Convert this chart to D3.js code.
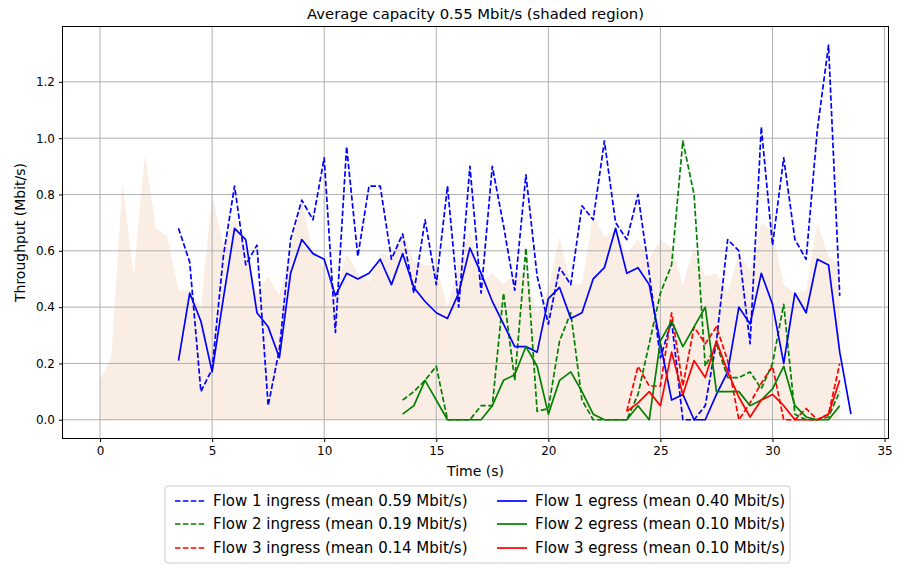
<!DOCTYPE html>
<html>
<head>
<meta charset="utf-8">
<script src="https://cdn.jsdelivr.net/npm/d3@7"></script>
<style>
  body { margin: 0; background: #fff; }
  svg { display: block; font-family: "DejaVu Sans", sans-serif; }
</style>
</head>
<body>
<svg id="chart" width="898" height="565"></svg>
<script>
// ---------------- data ----------------
const step = 0.5;
const capacityStart = 0;
const capacity = [0.14,0.22,0.84,0.51,0.94,0.68,0.65,0.46,0.46,0.40,0.80,0.62,0.72,0.60,0.45,0.51,0.44,0.60,0.78,0.59,
  0.54,0.45,0.59,0.52,0.49,0.59,0.58,0.67,0.56,0.55,0.55,0.40,0.55,0.67,0.49,0.52,0.48,0.52,0.52,0.38,
  0.46,0.65,0.48,0.48,0.73,0.65,0.67,0.59,0.64,0.57,0.64,0.61,0.48,0.61,0.51,0.52,0.45,0.59,0.53,0.70,
  0.67,0.48,0.45,0.46,0.70,0.58,0.55];

const flow1Start = 3.5;
const flow1Ingress = [0.68,0.56,0.10,0.18,0.58,0.83,0.55,0.62,0.05,0.25,0.64,0.78,0.71,0.93,0.31,0.97,0.58,0.83,0.83,0.57,
  0.66,0.45,0.71,0.48,0.83,0.40,0.90,0.45,0.90,0.69,0.46,0.87,0.51,0.34,0.54,0.48,0.76,0.71,0.99,0.70,
  0.64,0.80,0.52,0.22,0.35,0.00,0.00,0.05,0.28,0.64,0.60,0.27,1.04,0.62,0.93,0.64,0.57,1.03,1.33,0.44];
const flow1Egress = [0.21,0.45,0.35,0.17,0.43,0.68,0.64,0.38,0.33,0.22,0.52,0.64,0.59,0.57,0.44,0.52,0.50,0.52,0.57,0.48,
  0.59,0.47,0.42,0.38,0.36,0.45,0.61,0.52,0.42,0.34,0.26,0.26,0.24,0.43,0.47,0.36,0.38,0.50,0.54,0.68,
  0.52,0.54,0.48,0.27,0.07,0.09,0.00,0.00,0.09,0.17,0.40,0.34,0.52,0.41,0.20,0.45,0.38,0.57,0.55,0.24,0.02];

const flow2Start = 13.5;
const flow2Ingress = [0.07,0.10,0.14,0.19,0.00,0.00,0.00,0.05,0.05,0.45,0.14,0.61,0.03,0.04,0.28,0.38,0.07,0.00,0.00,0.00,
  0.00,0.09,0.27,0.45,0.55,0.99,0.80,0.19,0.27,0.15,0.15,0.17,0.11,0.20,0.41,0.02,0.00,0.00,0.01,0.10];
const flow2Egress = [0.02,0.05,0.14,0.07,0.00,0.00,0.00,0.00,0.05,0.14,0.16,0.26,0.19,0.02,0.14,0.17,0.10,0.02,0.00,0.00,
  0.00,0.05,0.00,0.28,0.35,0.26,0.33,0.40,0.10,0.10,0.10,0.05,0.07,0.11,0.19,0.05,0.01,0.00,0.00,0.05];

const flow3Start = 23.5;
const flow3Ingress = [0.03,0.19,0.12,0.12,0.38,0.12,0.33,0.27,0.33,0.21,0.00,0.06,0.13,0.19,0.00,0.00,0.04,0.00,0.02,0.20];
const flow3Egress = [0.03,0.06,0.10,0.05,0.24,0.09,0.21,0.15,0.28,0.17,0.08,0.01,0.07,0.09,0.05,0.00,0.00,0.00,0.02,0.14];

const titleText = "Average capacity 0.55 Mbit/s (shaded region)";
const xLabel = "Time (s)";
const yLabel = "Throughput (Mbit/s)";
const xTicks = [0,5,10,15,20,25,30,35];
const yTicks = [0.0,0.2,0.4,0.6,0.8,1.0,1.2];
const legendLabels = [
  "Flow 1 ingress (mean 0.59 Mbit/s)", "Flow 2 ingress (mean 0.19 Mbit/s)", "Flow 3 ingress (mean 0.14 Mbit/s)",
  "Flow 1 egress (mean 0.40 Mbit/s)", "Flow 2 egress (mean 0.10 Mbit/s)", "Flow 3 egress (mean 0.10 Mbit/s)"
];

// ---------------- build ----------------
const toPoints = (start, vals) => vals.map((v, i) => ({t: start + i * step, v}));
const series = [
  {pts: toPoints(flow1Start, flow1Ingress), color: "#0000ff", dash: true},
  {pts: toPoints(flow2Start, flow2Ingress), color: "#008000", dash: true},
  {pts: toPoints(flow3Start, flow3Ingress), color: "#ff0000", dash: true},
  {pts: toPoints(flow1Start, flow1Egress), color: "#0000ff", dash: false},
  {pts: toPoints(flow2Start, flow2Egress), color: "#008000", dash: false},
  {pts: toPoints(flow3Start, flow3Egress), color: "#ff0000", dash: false}
];
const capPts = toPoints(capacityStart, capacity);

const svg = d3.select("#chart");
const L = 62.5, R = 888.5, T = 26.5, B = 438.5;

const allT = series.flatMap(s => s.pts.map(p => p.t)).concat(capPts.map(p => p.t));
const allV = series.flatMap(s => s.pts.map(p => p.v)).concat(capPts.map(p => p.v));
const tMin = d3.min(allT), tMax = d3.max(allT);
const vMin = 0, vMax = d3.max(allV);
const tm = (tMax - tMin) * 0.05, vm = (vMax - vMin) * 0.05;

const x = d3.scaleLinear().domain([tMin - tm, tMax + tm]).range([L, R]);
const y = d3.scaleLinear().domain([vMin - vm, vMax + vm]).range([B, T]);

svg.append("defs").append("clipPath").attr("id", "clip")
  .append("rect").attr("x", L).attr("y", T).attr("width", R - L).attr("height", B - T);

const plot = svg.append("g").attr("clip-path", "url(#clip)");

// shaded capacity
plot.append("path")
  .datum(capPts)
  .attr("fill", "#faede3")
  .attr("d", d3.area().x(d => x(d.t)).y0(y(0)).y1(d => y(d.v)));

// grid
const grid = svg.append("g");
xTicks.forEach(t => grid.append("line")
  .attr("x1", x(t)).attr("x2", x(t)).attr("y1", T).attr("y2", B)
  .attr("stroke", "#b0b0b0").attr("stroke-width", 1));
yTicks.forEach(v => grid.append("line")
  .attr("x1", L).attr("x2", R).attr("y1", y(v)).attr("y2", y(v))
  .attr("stroke", "#b0b0b0").attr("stroke-width", 1));

// lines
const line = d3.line().x(d => x(d.t)).y(d => y(d.v));
const lines = svg.append("g").attr("clip-path", "url(#clip)");
series.forEach(s => {
  lines.append("path")
    .datum(s.pts)
    .attr("fill", "none")
    .attr("stroke", s.color)
    .attr("stroke-width", 1.7)
    .attr("stroke-linejoin", "round")
    .attr("stroke-dasharray", s.dash ? "5.5,2.4" : null)
    .attr("d", line);
});

// axes
const xAxis = d3.axisBottom(x).tickValues(xTicks).tickFormat(d3.format("d")).tickSizeOuter(0).tickSize(3.5).tickPadding(4);
const yAxis = d3.axisLeft(y).tickValues(yTicks).tickFormat(d3.format(".1f")).tickSizeOuter(0).tickSize(3.5).tickPadding(4);
const gx = svg.append("g").attr("transform", `translate(0,${B})`).call(xAxis);
const gy = svg.append("g").attr("transform", `translate(${L},0)`).call(yAxis);
[gx, gy].forEach(g => {
  g.select(".domain").remove();
  g.selectAll("text").attr("font-size", 12).attr("fill", "#000").attr("font-family", "DejaVu Sans");
  g.selectAll("line").attr("stroke", "#000");
});

// frame
svg.append("rect").attr("x", L).attr("y", T).attr("width", R - L).attr("height", B - T)
  .attr("fill", "none").attr("stroke", "#000").attr("stroke-width", 1);

// title & labels
svg.append("text").attr("x", (L + R) / 2).attr("y", 19).attr("text-anchor", "middle")
  .attr("font-size", 14.8).text(titleText);
svg.append("text").attr("x", (L + R) / 2).attr("y", 476).attr("text-anchor", "middle")
  .attr("font-size", 14).text(xLabel);
svg.append("text").attr("transform", `translate(25,${(T + B) / 2}) rotate(-90)`).attr("text-anchor", "middle")
  .attr("font-size", 14).text(yLabel);

// legend
const lg = svg.append("g");
lg.append("rect").attr("x", 165).attr("y", 486).attr("width", 625).attr("height", 77).attr("rx", 3)
  .attr("fill", "#fff").attr("fill-opacity", 0.8).attr("stroke", "#cccccc").attr("stroke-width", 1);
const colX = [175, 497];
const rowY = [501, 524, 548];
series.forEach((s, i) => {
  const c = Math.floor(i / 3), r = i % 3;
  lg.append("line").attr("x1", colX[c]).attr("x2", colX[c] + 30).attr("y1", rowY[r]).attr("y2", rowY[r])
    .attr("stroke", s.color).attr("stroke-width", 1.7).attr("stroke-dasharray", s.dash ? "5.5,2.4" : null);
  lg.append("text").attr("x", colX[c] + 38).attr("y", rowY[r] + 5).attr("font-size", 15).text(legendLabels[i]);
});
</script>
</body>
</html>
